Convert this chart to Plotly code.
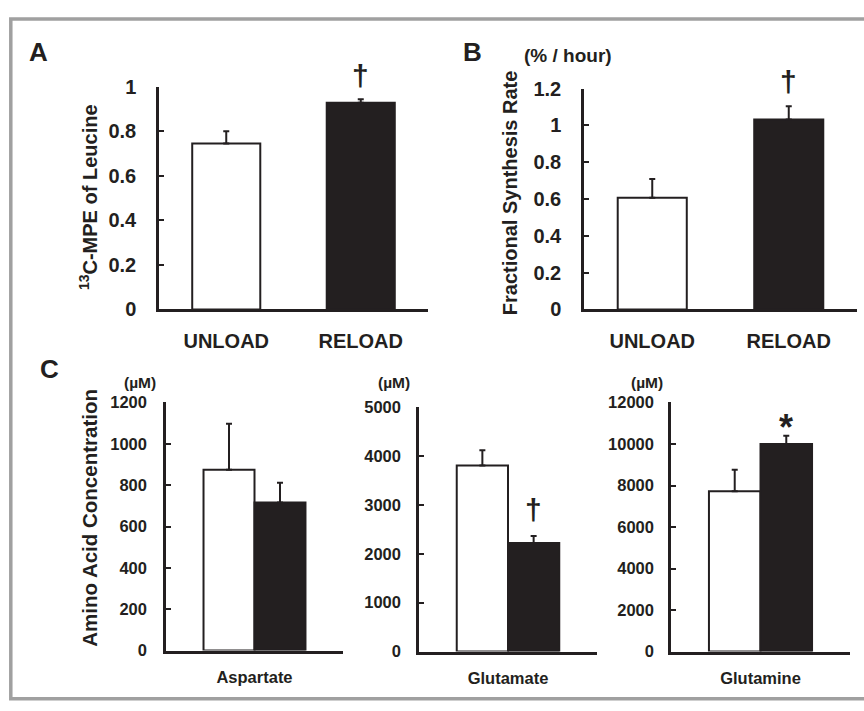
import plotly.graph_objects as go

# ---------------- data ----------------
groups = ["UNLOAD", "RELOAD"]
leucine_mpe = [0.745, 0.927]
leucine_sem = [0.055, 0.016]
fsr = [0.607, 1.032]
fsr_sem = [0.102, 0.072]

amino_acids = ["Aspartate", "Glutamate", "Glutamine"]
unload_conc = [875, 3810, 7720]
unload_sem = [222, 311, 1044]
reload_conc = [716, 2222, 10006]
reload_sem = [96, 145, 391]

sig_a = "†"
sig_b = "†"
sig_c = ["", "†", "*"]

# ---------------- style ----------------
W, H = 864, 711
FONT = "Liberation Sans, Arial, sans-serif"
INK = "#231f20"
BLACK_BAR = "#231f20"
LW = 2.5


def px_x(p):
    return p / W


def px_y(p):
    return 1 - p / H


fig = go.Figure()

err_style = dict(type="data", symmetric=False, color=INK, thickness=2, width=3)

# panel A
fig.add_trace(go.Bar(
    x=groups, y=leucine_mpe, xaxis="x", yaxis="y", width=0.506,
    marker=dict(color=["white", BLACK_BAR], line=dict(color=INK, width=2)),
    error_y=dict(array=leucine_sem, arrayminus=[0, 0], **err_style),
    showlegend=False, hoverinfo="skip"))
# panel B
fig.add_trace(go.Bar(
    x=groups, y=fsr, xaxis="x2", yaxis="y2", width=0.506,
    marker=dict(color=["white", BLACK_BAR], line=dict(color=INK, width=2)),
    error_y=dict(array=fsr_sem, arrayminus=[0, 0], **err_style),
    showlegend=False, hoverinfo="skip"))

# panel C (three sub panels)
BARGAP = 0.424
for i, aa in enumerate(amino_acids):
    xa = "x%d" % (i + 3)
    ya = "y%d" % (i + 3)
    fig.add_trace(go.Bar(
        x=[aa], y=[unload_conc[i]], xaxis=xa, yaxis=ya, name=groups[0],
        marker=dict(color="white", line=dict(color=INK, width=2)),
        error_y=dict(array=[unload_sem[i]], arrayminus=[0], **err_style),
        showlegend=False, hoverinfo="skip", offsetgroup="u"))
    fig.add_trace(go.Bar(
        x=[aa], y=[reload_conc[i]], xaxis=xa, yaxis=ya, name=groups[1],
        marker=dict(color=BLACK_BAR, line=dict(color=INK, width=2)),
        error_y=dict(array=[reload_sem[i]], arrayminus=[0], **err_style),
        showlegend=False, hoverinfo="skip", offsetgroup="r"))

tickfont_big = dict(family=FONT, size=20, color=INK, weight="bold")
tickfont_small = dict(family=FONT, size=16.5, color=INK, weight="bold")


def xaxis(dom, anchor, font, standoff):
    return dict(domain=dom, anchor=anchor, showline=True, linewidth=LW, linecolor=INK,
                ticks="", showgrid=False, zeroline=False, tickfont=font,
                ticklabelstandoff=standoff, fixedrange=True)


def yaxis(dom, anchor, rng, dtick, font, standoff):
    return dict(domain=dom, anchor=anchor, range=rng, dtick=dtick, showline=True,
                linewidth=LW, linecolor=INK, ticks="inside", ticklen=5, tickwidth=2,
                tickcolor=INK, showgrid=False, zeroline=False, tickfont=font,
                ticklabelstandoff=standoff, fixedrange=True, tickformat="d"
                if dtick >= 1 else None)


yA = [px_y(308), px_y(78)]
yB = [px_y(308), px_y(80)]
yC1 = [px_y(660), px_y(404)]
yC2 = [px_y(661), px_y(409)]
yC3 = [px_y(661), px_y(404)]

fig.update_layout(
    width=W, height=H, margin=dict(l=0, r=0, t=0, b=0),
    paper_bgcolor="white", plot_bgcolor="rgba(0,0,0,0)",
    barmode="group", bargap=BARGAP, bargroupgap=0,
    font=dict(family=FONT, color=INK),
    xaxis=xaxis([px_x(159), px_x(428)], "y", tickfont_big, 12),
    yaxis=yaxis(yA, "x", [0, 1], 0.2, tickfont_big, 16),
    xaxis2=xaxis([px_x(584), px_x(857)], "y2", tickfont_big, 12),
    yaxis2=yaxis(yB, "x2", [0, 1.2], 0.2, tickfont_big, 16),
    xaxis3=xaxis([px_x(166), px_x(343)], "y3", tickfont_small, 10),
    yaxis3=yaxis(yC1, "x3", [0, 1200], 200, tickfont_small, 13),
    xaxis4=xaxis([px_x(419), px_x(597)], "y4", tickfont_small, 10),
    yaxis4=yaxis(yC2, "x4", [0, 5000], 1000, tickfont_small, 12),
    xaxis5=xaxis([px_x(671), px_x(850)], "y5", tickfont_small, 10),
    yaxis5=yaxis(yC3, "x5", [0, 12000], 2000, tickfont_small, 11),
)

ann = []


def text_ann(x, y, text, size, angle=0):
    ann.append(dict(x=px_x(x), y=px_y(y), xref="paper", yref="paper", text=text,
                    showarrow=False, textangle=angle, xanchor="center", yanchor="middle",
                    font=dict(family=FONT, size=size, color=INK, weight="bold")))


# panel letters
text_ann(38.5, 42.5, "A", 26)
text_ann(472, 42.5, "B", 26)
text_ann(49, 369, "C", 26)
# units
text_ann(568, 46, "(% / hour)", 19)
text_ann(140, 383, "(µM)", 15.5)
text_ann(393.5, 383, "(µM)", 15.5)
text_ann(647, 383, "(µM)", 15.5)
# axis titles
text_ann(88, 192, "<sup>13</sup>C-MPE of Leucine", 20, -90)
text_ann(510, 188, "Fractional Synthesis Rate", 20, -90)
text_ann(90, 523, "Amino Acid Concentration", 20.5, -90)

# significance marks, positioned from data
DAG = 30
AST = 36
ann.append(dict(x=groups[1], y=leucine_mpe[1] + leucine_sem[1], xref="x", yref="y",
                text=sig_a, showarrow=False, yanchor="middle", yshift=24,
                font=dict(family=FONT, size=DAG, color=INK, weight="bold")))
ann.append(dict(x=groups[1], y=fsr[1] + fsr_sem[1], xref="x2", yref="y2",
                text=sig_b, showarrow=False, yanchor="middle", yshift=25,
                font=dict(family=FONT, size=DAG, color=INK, weight="bold")))
bar_off = (1 - BARGAP) / 4
for i, s in enumerate(sig_c):
    if not s:
        continue
    ann.append(dict(x=bar_off, y=reload_conc[i] + reload_sem[i],
                    xref="x%d" % (i + 3), yref="y%d" % (i + 3),
                    text=s, showarrow=False, yanchor="middle",
                    yshift=26 if s == "†" else 8,
                    font=dict(family=FONT, size=DAG if s == "†" else AST, color=INK,
                              weight="bold")))
fig.update_layout(annotations=ann)

# outer gray frame
fig.add_shape(type="rect", xref="paper", yref="paper",
              x0=px_x(10.8), x1=px_x(880), y0=px_y(709.8), y1=px_y(8.3),
              line=dict(color="#a0a0a0", width=3.5), fillcolor="rgba(0,0,0,0)",
              layer="below")

fig.write_html("out.html",
               config={"displayModeBar": False},
               post_script="document.body.style.margin='0';"
                           "document.body.style.overflow='hidden';")
